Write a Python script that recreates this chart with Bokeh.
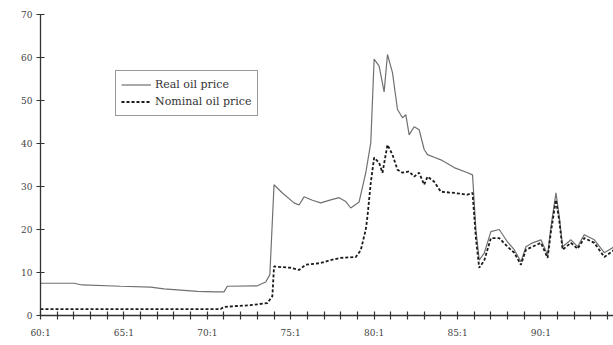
from bokeh.plotting import figure
from bokeh.models import Range1d, FixedTicker, Legend, LegendItem
from bokeh.embed import file_html
from bokeh.resources import INLINE

# Real oil price (quarterly dates)
real_t = [1960.0, 1962.0, 1962.5, 1964.8, 1966.6, 1967.4, 1969.4, 1970.5, 1971.0, 1971.2,
          1973.0, 1973.5, 1973.75, 1974.0, 1974.5, 1975.2, 1975.5, 1975.8, 1976.3, 1976.8,
          1977.4, 1977.9, 1978.3, 1978.6, 1979.1, 1979.5, 1979.8, 1980.0, 1980.3, 1980.6,
          1980.8, 1981.1, 1981.4, 1981.7, 1981.9, 1982.1, 1982.4, 1982.7, 1983.0, 1983.2,
          1983.6, 1984.0, 1984.8, 1985.6, 1985.9, 1986.1, 1986.3, 1986.6, 1987.0, 1987.5,
          1988.0, 1988.4, 1988.8, 1989.1, 1989.5, 1990.0, 1990.4, 1990.6, 1990.9, 1991.1,
          1991.3, 1991.8, 1992.2, 1992.6, 1993.2, 1993.8, 1994.4]
real_v = [7.5, 7.5, 7.1, 6.8, 6.6, 6.2, 5.6, 5.5, 5.5, 6.8,
          6.9, 7.8, 9.5, 30.4, 28.5, 26.2, 25.7, 27.6, 26.8, 26.2,
          26.9, 27.4, 26.5, 25.0, 26.4, 33.2, 40.2, 59.6, 58.0, 52.0,
          60.7, 56.5, 47.9, 46.0, 46.7, 42.0, 43.9, 43.2, 38.6, 37.4,
          36.8, 36.2, 34.4, 33.2, 32.7, 20.0, 12.9, 14.5, 19.5, 20.0,
          17.1, 15.3, 12.5, 16.0, 16.9, 17.6, 14.1, 20.6, 28.5, 23.0,
          16.0, 17.6, 16.0, 18.8, 17.6, 14.6, 16.0]

# Nominal oil price
nom_t = [1960.0, 1970.8, 1971.0, 1972.6, 1973.6, 1973.9, 1974.0, 1975.0, 1975.5, 1975.9,
         1976.8, 1977.4, 1978.0, 1978.9, 1979.2, 1979.5, 1979.6, 1979.8, 1980.0, 1980.3,
         1980.5, 1980.8, 1981.1, 1981.4, 1981.7, 1982.1, 1982.4, 1982.7, 1983.0, 1983.2,
         1983.6, 1984.0, 1984.8, 1985.6, 1985.9, 1986.1, 1986.3, 1986.6, 1987.0, 1987.5,
         1988.0, 1988.4, 1988.8, 1989.1, 1989.5, 1990.0, 1990.4, 1990.6, 1990.9, 1991.1,
         1991.3, 1991.8, 1992.2, 1992.6, 1993.2, 1993.8, 1994.4]
nom_v = [1.5, 1.5, 2.0, 2.4, 2.9, 4.5, 11.4, 11.1, 10.6, 11.8,
         12.2, 12.9, 13.4, 13.6, 15.2, 20.0, 23.0, 30.9, 36.7, 35.5,
         33.2, 39.7, 37.4, 33.9, 33.2, 33.5, 32.3, 33.2, 30.4, 32.3,
         31.1, 28.8, 28.5, 28.1, 28.5, 18.0, 11.1, 12.8, 18.0, 18.0,
         16.0, 14.6, 11.8, 15.3, 16.0, 16.9, 13.4, 19.5, 26.9, 22.0,
         15.3, 16.9, 15.5, 18.0, 16.9, 13.6, 15.3]

y_ticks = [0, 10, 20, 30, 40, 50, 60, 70]
x_label_years = [1960, 1965, 1970, 1975, 1980, 1985, 1990]
x_labels = ["60:1", "65:1", "70:1", "75:1", "80:1", "85:1", "90:1"]

FONT = "DejaVu Serif"

p = figure(width=613, height=345, output_backend="svg", toolbar_location=None,
           x_range=Range1d(1960, 1994.35), y_range=Range1d(0, 70),
           min_border_left=40, min_border_right=0, min_border_top=14, min_border_bottom=30)
p.outline_line_color = None
p.xgrid.grid_line_color = None
p.ygrid.grid_line_color = None
p.background_fill_color = "white"

r1 = p.line(real_t, real_v, line_color="#707070", line_width=1.2)
r2 = p.line(nom_t, nom_v, line_color="#1a1a1a", line_width=1.8, line_dash="3 2")

years = list(range(1960, 1995))
p.xaxis.ticker = FixedTicker(ticks=years)
overrides = {y: "" for y in years}
for y, lab in zip(x_label_years, x_labels):
    overrides[y] = lab
p.xaxis.major_label_overrides = overrides
p.yaxis.ticker = FixedTicker(ticks=y_ticks)

for ax in (p.xaxis, p.yaxis):
    ax.axis_line_color = "#333333"
    ax.axis_line_width = 1.3
    ax.major_tick_line_color = "#333333"
    ax.major_tick_line_width = 1.2
    ax.major_tick_in = 4
    ax.major_tick_out = 4
    ax.minor_tick_line_color = None
    ax.major_label_text_font = FONT
    ax.major_label_text_font_size = "9px"
    ax.major_label_text_color = "#444444"
p.xaxis.major_label_standoff = 8
p.yaxis.major_label_standoff = 4

legend = Legend(items=[LegendItem(label="Real oil price", renderers=[r1]),
                       LegendItem(label="Nominal oil price", renderers=[r2])],
                location=(75, 199))
legend.border_line_color = "#333333"
legend.border_line_width = 1.5
legend.background_fill_color = "white"
legend.background_fill_alpha = 1
legend.label_text_font = FONT
legend.label_text_font_size = "11px"
legend.label_text_color = "#333333"
legend.glyph_width = 30
legend.glyph_height = 17
legend.label_height = 17
legend.label_standoff = 4
legend.padding = 5
legend.spacing = 0
legend.margin = 0
p.add_layout(legend, "center")

open("out.html", "w").write(file_html(p, INLINE))
